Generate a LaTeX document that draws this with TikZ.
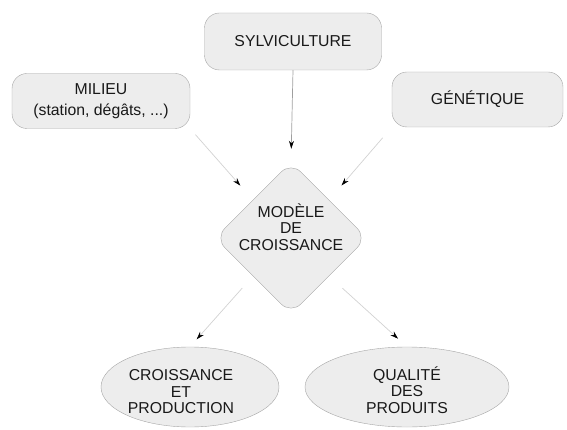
\documentclass[tikz,border=0pt]{standalone}
\usepackage{fontspec}
\setmainfont{Liberation Sans}
\usetikzlibrary{shapes.geometric,arrows.meta}
\begin{document}
\begin{tikzpicture}[x=1pt,y=-1pt,
  every node/.style={font=\fontsize{15.8}{16.5}\selectfont, text=black!90},
  box/.style={draw=gray!70, fill=gray!14, rounded corners=15pt, align=center, inner sep=0pt},
  dia/.style={diamond, draw=gray!70, fill=gray!14, rounded corners=14pt, minimum width=152pt, minimum height=152pt, inner sep=0pt},
  ell/.style={ellipse, draw=gray!70, fill=gray!14, inner sep=0pt},
  lbl/.style={align=center, inner sep=0pt},
  arr/.style={draw=gray!35, line width=0.7pt, -{Stealth[length=8pt,width=5pt,black]}}
]
\useasboundingbox (0,0) rectangle (567,430);
\node[box, minimum width=177pt, minimum height=57pt] (sylv) at (293,41.5) {SYLVICULTURE};
\node[box, minimum width=178pt, minimum height=55pt, font=\fontsize{15.8}{21}\selectfont] (mil) at (101,101) {MILIEU\\(station, dégâts, ...)};
\node[box, minimum width=171pt, minimum height=55pt] (gen) at (477.5,99.5) {GÉNÉTIQUE};
\node[dia] (dia) at (291,238) {};
\node[lbl] (diat) at (291,227) {MODÈLE\\DE\\CROISSANCE};
\node[ell, minimum width=178pt, minimum height=80pt] (ell1) at (190,387) {};
\node[lbl] (ell1t) at (181,392) {CROISSANCE\\ET\\PRODUCTION};
\node[ell, minimum width=204pt, minimum height=80pt] (ell2) at (407,387) {};
\node[lbl] (ell2t) at (407,390) {QUALITÉ\\DES\\PRODUITS};
\draw[arr, draw=gray!75, shorten >=13pt] (sylv.south) -- (dia.north);
\draw[arr, shorten <=8pt, shorten >=19pt] (mil.south east) -- (dia.north west);
\draw[arr, shorten <=14pt, shorten >=19pt] (gen.south west) -- (dia.north east);
\draw[arr, shorten <=16pt, shorten >=10pt] (dia.south west) -- (ell1.north);
\draw[arr, shorten <=18pt, shorten >=12pt] (dia.south east) -- (ell2.north);
\end{tikzpicture}
\end{document}
